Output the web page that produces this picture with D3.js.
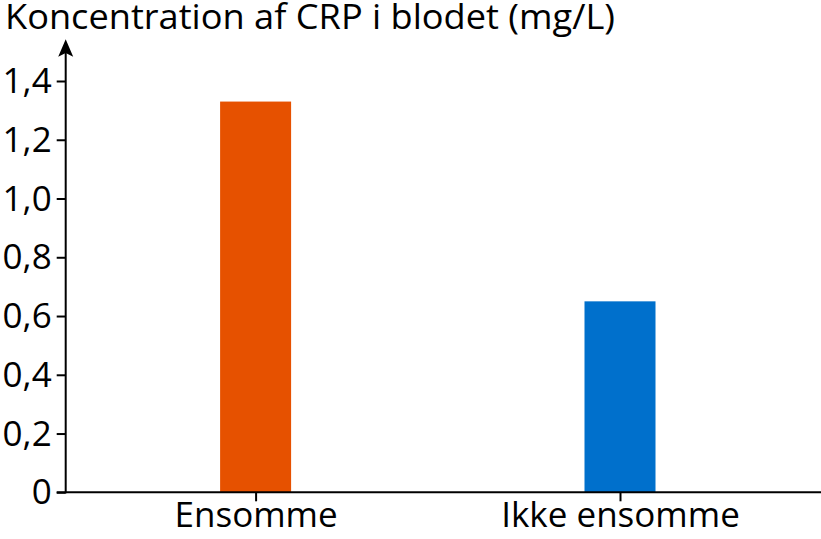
<!DOCTYPE html>
<html><head><meta charset="utf-8">
<script src="https://cdn.jsdelivr.net/npm/d3@7/dist/d3.min.js"></script>
<style>html,body{margin:0;padding:0;background:#fff;}svg{display:block;}text{font-family:"Open Sans",sans-serif;fill:#000;}</style>
</head><body>
<script>
const categories = ["Ensomme", "Ikke ensomme"];
const values = [1.33, 0.65];
const colors = ["#e65100", "#0070cc"];
const yTicks = [0, 0.2, 0.4, 0.6, 0.8, 1.0, 1.2, 1.4];
const yTickLabels = ["0", "0,2", "0,4", "0,6", "0,8", "1,0", "1,2", "1,4"];
const title = "Koncentration af CRP i blodet (mg/L)";

const W = 821, H = 539;
const svg = d3.select("body").append("svg").attr("width", W).attr("height", H);

const x0 = 65.7, yBase = 492.3;
const y = d3.scaleLinear().domain([0, 1.4]).range([yBase, 81]);
const x = d3.scalePoint().domain(categories).range([255.6, 620]);
const barW = 71;

// bars
svg.selectAll("rect.bar").data(categories).enter().append("rect")
  .attr("class", "bar")
  .attr("x", d => x(d) - barW / 2)
  .attr("width", barW)
  .attr("y", (d, i) => y(values[i]))
  .attr("height", (d, i) => y(0) - y(values[i]))
  .attr("fill", (d, i) => colors[i]);

// y axis
const yAxis = d3.axisLeft(y).tickValues(yTicks)
  .tickFormat((d, i) => yTickLabels[i]).tickSize(9).tickPadding(5);
const gy = svg.append("g").attr("transform", `translate(${x0},0)`).call(yAxis);
gy.select(".domain").remove();
gy.selectAll(".tick line").attr("stroke", "#000").attr("stroke-width", 2);
gy.selectAll(".tick text").style("font-family", '"Open Sans",sans-serif')
  .style("font-size", "35px").attr("dy", "0.33em").attr("fill", "#000");

// y axis line with arrow
svg.append("line").attr("x1", x0).attr("x2", x0).attr("y1", yBase + 1).attr("y2", 50)
  .attr("stroke", "#000").attr("stroke-width", 2);
svg.append("path")
  .attr("d", `M${x0},39.3 L${x0 + 7.5},56.7 L${x0},53 L${x0 - 7.5},56.7 Z`)
  .attr("fill", "#000");

// x axis
const xAxis = d3.axisBottom(x).tickSize(9).tickPadding(5);
const gx = svg.append("g").attr("transform", `translate(0,${yBase})`).call(xAxis);
gx.select(".domain").remove();
gx.selectAll(".tick line").attr("stroke", "#000").attr("stroke-width", 2);
gx.selectAll(".tick text").style("font-family", '"Open Sans",sans-serif')
  .style("font-size", "35px").attr("dy", "0.71em").attr("y", 10).attr("fill", "#000");
svg.append("line").attr("x1", 56.7).attr("x2", W).attr("y1", yBase).attr("y2", yBase)
  .attr("stroke", "#000").attr("stroke-width", 2);

// title
svg.append("text").attr("x", 5).attr("y", 28.5)
  .attr("textLength", 610).attr("lengthAdjust", "spacingAndGlyphs")
  .style("font-size", "34px").text(title);
</script>
</body></html>
